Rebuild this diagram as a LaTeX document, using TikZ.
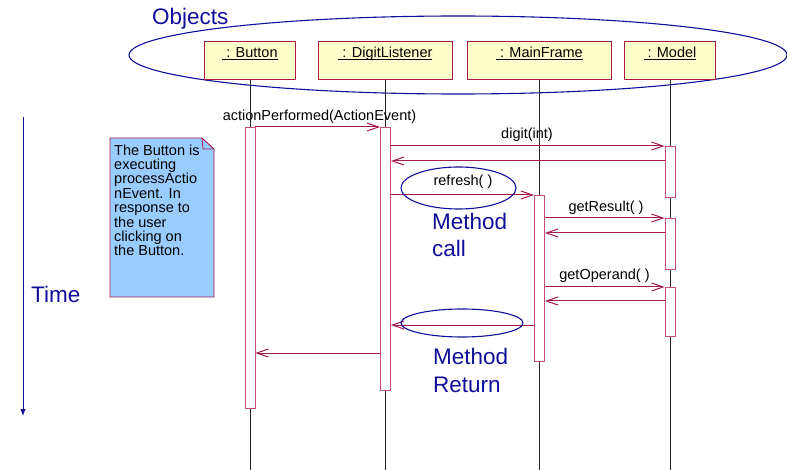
\documentclass[tikz,border=0pt]{standalone}
\usepackage{fontspec}
\setmainfont{Liberation Sans}
\usetikzlibrary{arrows.meta}
\definecolor{msgred}{RGB}{165,25,75}
\definecolor{barred}{RGB}{195,80,115}
\definecolor{objfill}{RGB}{255,255,204}
\definecolor{notefill}{RGB}{153,204,255}
\definecolor{navy}{RGB}{15,15,155}
% underlined object name with the rule at a fixed depth
\newcommand{\objname}[1]{\setbox0\hbox{#1}\rlap{\rule[-2.6pt]{\wd0}{0.8pt}}\box0}
\begin{document}
\begin{tikzpicture}[x=1pt,y=-1pt,
  small/.style={font=\fontsize{14.5}{14.4}\selectfont},
  big/.style={font=\fontsize{22.5}{28}\selectfont, text=navy, inner sep=0pt},
  objbox/.style={draw=msgred, fill=objfill, line width=0.9pt, anchor=north west,
    text height=16pt, text depth=22pt, inner xsep=0pt, inner ysep=0pt, small},
  lifeline/.style={draw=black!85, line width=0.8pt},
  actbar/.style={draw=barred, fill=white, line width=0.9pt, anchor=north,
    minimum width=10pt, inner sep=0pt},
  msg/.style={draw=msgred, line width=1pt, -{Straight Barb[length=11.5pt,width=8pt]}},
  msglabel/.style={small, anchor=base, inner sep=0pt},
  oval/.style={draw=navy, line width=1.1pt},
]
\useasboundingbox (0,0) rectangle (787,470);

% the group of objects
\draw[oval] (458,55) ellipse [x radius=329, y radius=39];
\node[big, anchor=base west] (objects) at (152,25) {Objects};

% object boxes
\node[objbox, minimum width=91pt]  (button) at (204,41) {\objname{\hspace*{4pt}: Button}};
\node[objbox, minimum width=134pt] (digit)  at (318,41) {\objname{\hspace*{4pt}: DigitListener}};
\node[objbox, minimum width=144pt] (frame)  at (467,41) {\objname{\hspace*{4pt}: MainFrame}};
\node[objbox, minimum width=91pt]  (model)  at (624,41) {\objname{\hspace*{4pt}: Model}};

% lifelines
\coordinate (bottom) at (0,470);
\draw[lifeline] (button.south) -- (button.south |- bottom);
\draw[lifeline] (digit.south)  -- (digit.south |- bottom);
\draw[lifeline] (frame.south)  -- (frame.south |- bottom);
\draw[lifeline] (model.south)  -- (model.south |- bottom);

% activation bars
\node[actbar, minimum height=281pt] (bbar)   at (button.south |- 0,127) {};
\node[actbar, minimum height=263pt] (dbar)   at (digit.south |- 0,127) {};
\node[actbar, minimum height=166pt] (fbar)   at (frame.south |- 0,195) {};
\node[actbar, minimum height=51pt]  (mbarA)  at (model.south |- 0,146) {};
\node[actbar, minimum height=51pt]  (mbarB)  at (model.south |- 0,218) {};
\node[actbar, minimum height=49pt]  (mbarC)  at (model.south |- 0,287) {};

% rows of the return messages
\coordinate (rowA) at (0,161);
\coordinate (rowB) at (0,233);
\coordinate (rowC) at (0,301);
\coordinate (rowD) at (0,325);
\coordinate (rowE) at (0,353);

% calls
\draw[msg] (bbar.north east) -- (dbar.north west);
\draw[msg] (dbar.east |- mbarA.north) -- (mbarA.north west);
\draw[msg] (dbar.east |- fbar.north) -- (fbar.north west);
\draw[msg] (fbar.east |- mbarB.north) -- (mbarB.north west);
\draw[msg] (fbar.east |- mbarC.north) -- (mbarC.north west);

% returns
\draw[msg] (mbarA.west |- rowA) -- (dbar.east |- rowA);
\draw[msg] (mbarB.west |- rowB) -- (fbar.east |- rowB);
\draw[msg] (mbarC.west |- rowC) -- (fbar.east |- rowC);
\draw[msg] (fbar.west |- rowD) -- (dbar.east |- rowD);
\draw[msg] (dbar.west |- rowE) -- (bbar.east |- rowE);

% message labels
\node[msglabel] (lblaction)  at (319.5,121) {actionPerformed(ActionEvent)};
\node[msglabel] (lbldigit)   at (527,139)   {digit(int)};
\node[msglabel] (lblrefresh) at (463,186)   {refresh( )};
\node[msglabel] (lblresult)  at (606,212)   {getResult( )};
\node[msglabel] (lbloperand) at (604.5,280) {getOperand( )};

% highlighted call and return (base anchor sits on the last line)
\draw[oval] (458.5,188) ellipse [x radius=57.5, y radius=21];
\draw[oval] (462,323) ellipse [x radius=61, y radius=14];
\node[big, anchor=base west, align=left] (callnote) at (432,257) {Method\\[-0.5pt]call};
\node[big, anchor=base west, align=left] (retnote)  at (433,392) {Method\\[-0.5pt]Return};

% time axis
\coordinate (tstart) at (23,117);
\coordinate (tend) at (23,416);
\draw[navy, line width=0.9pt, -{Latex[length=7pt,width=5.5pt]}] (tstart) -- (tend);
\node[big, anchor=base west] (time) at (31,303) {Time};

% comment note with a folded corner
\draw[draw=msgred, fill=notefill, line width=0.9pt]
  (110,138) -- (202,138) -- (214,149) -- (214,297) -- (110,297) -- cycle;
\draw[draw=msgred, line width=0.8pt] (202,138) -- (203,149) -- (214,149);
\node[small, anchor=north west, align=left, inner sep=0pt] (note) at (114,144.4)
  {The Button is\\executing\\processActio\\nEvent. In\\response to\\the user\\clicking on\\the Button.};
\end{tikzpicture}
\end{document}
